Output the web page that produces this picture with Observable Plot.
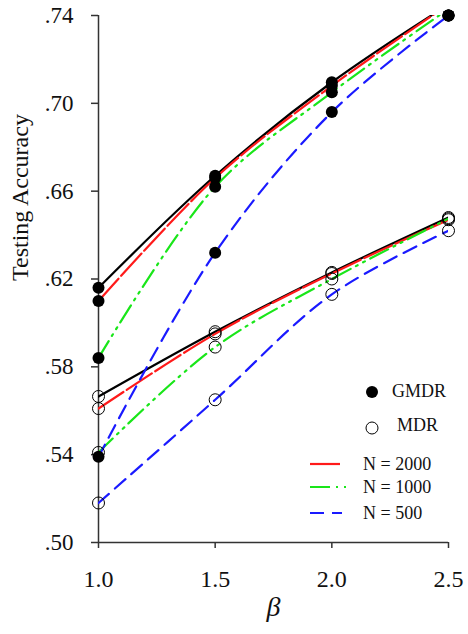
<!DOCTYPE html>
<html>
<head>
<meta charset="utf-8">
<script src="https://cdn.jsdelivr.net/npm/d3@7"></script>
<script src="https://cdn.jsdelivr.net/npm/@observablehq/plot@0.6"></script>
<style>
  html, body { margin: 0; padding: 0; background: #fff; }
  #chart { width: 468px; height: 634px; }
  #chart svg, #chart svg text { font-family: "Liberation Serif", "Times New Roman", serif; }
</style>
</head>
<body>
<div id="chart"></div>
<script>
// ---- data ----
const beta = [1.0, 1.5, 2.0, 2.5];
const seriesNames = ["Reference", "N = 2000", "N = 1000", "N = 500"];
const gmdrRef  = [0.616, 0.667, 0.7096, 0.745];
const gmdr2000 = [0.610, 0.666, 0.708, 0.745];
const gmdr1000 = [0.584, 0.662, 0.705, 0.743];
const gmdr500  = [0.539, 0.632, 0.696, 0.740];
const mdrRef   = [0.5665, 0.596, 0.623, 0.648];
const mdr2000  = [0.561, 0.595, 0.6225, 0.647];
const mdr1000  = [0.541, 0.589, 0.620, 0.6475];
const mdr500   = [0.518, 0.565, 0.613, 0.642];
const yTicks = [0.50, 0.54, 0.58, 0.62, 0.66, 0.70, 0.74];
const xTicks = [1.0, 1.5, 2.0, 2.5];
const legendMethods = ["GMDR", "MDR"];

// ---- styles ----
const seriesColor = ["#000000", "#ff1a1a", "#19e619", "#1a1aff"];
const seriesDash  = [null, "30,4", "20,6,2,6,2,6", "14,8"];
const font = "Liberation Serif";

const gmdrSeries = [gmdrRef, gmdr2000, gmdr1000, gmdr500];
const mdrSeries  = [mdrRef, mdr2000, mdr1000, mdr500];
const rows = [];
seriesNames.forEach((s, i) => {
  beta.forEach((b, j) => {
    rows.push({beta: b, value: gmdrSeries[i][j], method: "GMDR", series: s, si: i});
    rows.push({beta: b, value: mdrSeries[i][j], method: "MDR", series: s, si: i});
  });
});
const yMax = d3.max(yTicks);

const fmtY = d => d3.format(".2f")(d).replace(/^0/, "");

const lineMarks = seriesNames.map((s, i) =>
  Plot.line(rows.filter(r => r.si === i), {
    x: "beta", y: "value", z: "method",
    stroke: seriesColor[i], strokeWidth: 2.2,
    strokeDasharray: seriesDash[i],
    curve: "catmull-rom", clip: true
  })
);

const plot = Plot.plot({
  width: 468, height: 634,
  marginLeft: 98, marginRight: 20, marginTop: 15, marginBottom: 92,
  x: {domain: [1.0, 2.5]},
  y: {domain: [0.50, 0.74]},
  style: {fontFamily: font, background: "#fff", color: "#000"},
  marks: [
    Plot.axisY({ticks: yTicks, tickFormat: fmtY, tickSize: 7, tickPadding: 18,
      fontSize: 23, fontFamily: font, label: null, stroke: "#333", fill: "#111", strokeWidth: 1.5}),
    Plot.axisX({ticks: xTicks, tickFormat: d3.format(".1f"), tickSize: 6, tickPadding: 21,
      fontSize: 24, fontFamily: font, label: null, stroke: "#333", fill: "#111", strokeWidth: 1.5}),
    Plot.ruleX([1.0], {stroke: "#333", strokeWidth: 1.5}),
    Plot.ruleY([0.50], {stroke: "#333", strokeWidth: 1.5}),
    ...lineMarks,
    Plot.dot(rows.filter(r => r.method === "GMDR"), {
      x: "beta", y: d => Math.min(d.value, yMax), r: 6, fill: "#000", stroke: "none"
    }),
    Plot.dot(rows.filter(r => r.method === "MDR"), {
      x: "beta", y: d => Math.min(d.value, yMax), r: 6, fill: "none", stroke: "#000", strokeWidth: 1
    }),
    Plot.text(["Testing Accuracy"], {frameAnchor: "left", rotate: -90, dx: -78, dy: 2,
      fontSize: 24, fontFamily: font, fill: "#111"}),
    Plot.text(["β"], {frameAnchor: "bottom", dy: 73, fontSize: 28, fontFamily: font,
      fontStyle: "italic", fill: "#111"})
  ]
});

// ---- legend (inside plot area, lower right) ----
const svg = d3.select(plot);
const lg = svg.append("g").attr("font-family", font).attr("font-size", 18)
  .attr("fill", "#111").attr("text-anchor", "start");
lg.append("circle").attr("cx", 372).attr("cy", 392).attr("r", 6).attr("fill", "#000");
lg.append("text").attr("x", 392).attr("y", 391).attr("dy", "0.35em").text(legendMethods[0]);
lg.append("circle").attr("cx", 372).attr("cy", 428).attr("r", 6).attr("fill", "none").attr("stroke", "#000");
lg.append("text").attr("x", 397).attr("y", 425).attr("dy", "0.35em").text(legendMethods[1]);
[1, 2, 3].forEach((i, k) => {
  const y = [464, 487, 513][k];
  lg.append("line").attr("x1", 310).attr("x2", i === 2 ? 350 : 342).attr("y1", y).attr("y2", y)
    .attr("stroke", seriesColor[i]).attr("stroke-width", 2.2)
    .attr("stroke-dasharray", seriesDash[i]);
  lg.append("text").attr("x", 363).attr("y", y).attr("dy", "0.35em").text(seriesNames[i]);
});

document.getElementById("chart").appendChild(plot);
</script>
</body>
</html>
